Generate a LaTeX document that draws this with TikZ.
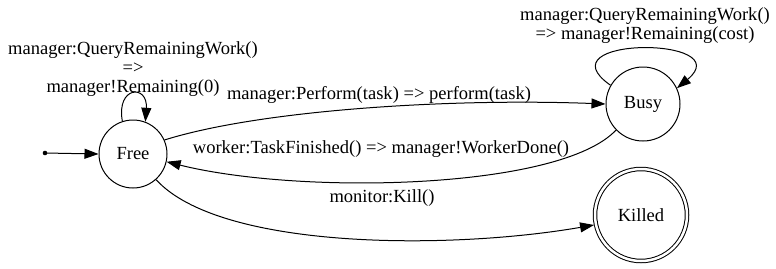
\documentclass[tikz,border=0pt]{standalone}
\usepackage{fontspec}
\setmainfont{Liberation Serif}
\newfontfamily\gvfont{Liberation Serif}
\usetikzlibrary{arrows.meta}

\tikzset{
  state/.style={draw, circle, line width=1bp, inner sep=0pt},
  edge/.style={line width=1bp, -{Triangle[length=14bp, width=10bp]}},
  lbl/.style={align=center, inner sep=0pt}
}

\begin{document}
\begin{tikzpicture}[x=1bp, y=-1bp, font=\gvfont\fontsize{18.6}{19}\selectfont]
\useasboundingbox (0,0) rectangle (776,268);
\node[state, minimum size=68bp] (free) at (133,154) {Free};
\node[state, minimum size=74bp] (busy) at (643,104) {Busy};
\node[state, double, double distance=2.5bp, minimum size=92bp, outer sep=2bp] (killed) at (641,215) {Killed};
\fill (45,153) circle (2.3bp) coordinate (init);

\draw[edge] (init) -- (free.west);
\draw[edge] (free.108) .. controls (116,86) and (148,84) .. (free.69);
\draw[edge] (free.24) .. controls (260,110) and (450,98) .. (busy.180);
\draw[edge] (busy.224) .. controls (560,190) and (300,195) .. (free.-13);
\draw[edge] (free.-48) .. controls (220,250) and (450,250) .. (killed.192);
\draw[edge] (busy.150) .. controls (540,36) and (740,36) .. (busy.25);

\node[lbl] (qfree) at (133,69) {manager:QueryRemainingWork()\\=>\\manager!Remaining(0)};
\node[lbl] (perform) at (379,95) {manager:Perform(task) => perform(task)};
\node[lbl] (done) at (381,149) {worker:TaskFinished() => manager!WorkerDone()};
\node[lbl] (kill) at (382,198) {monitor:Kill()};
\node[lbl] (qbusy) at (645,26) {manager:QueryRemainingWork()\\=> manager!Remaining(cost)};
\end{tikzpicture}
\end{document}
